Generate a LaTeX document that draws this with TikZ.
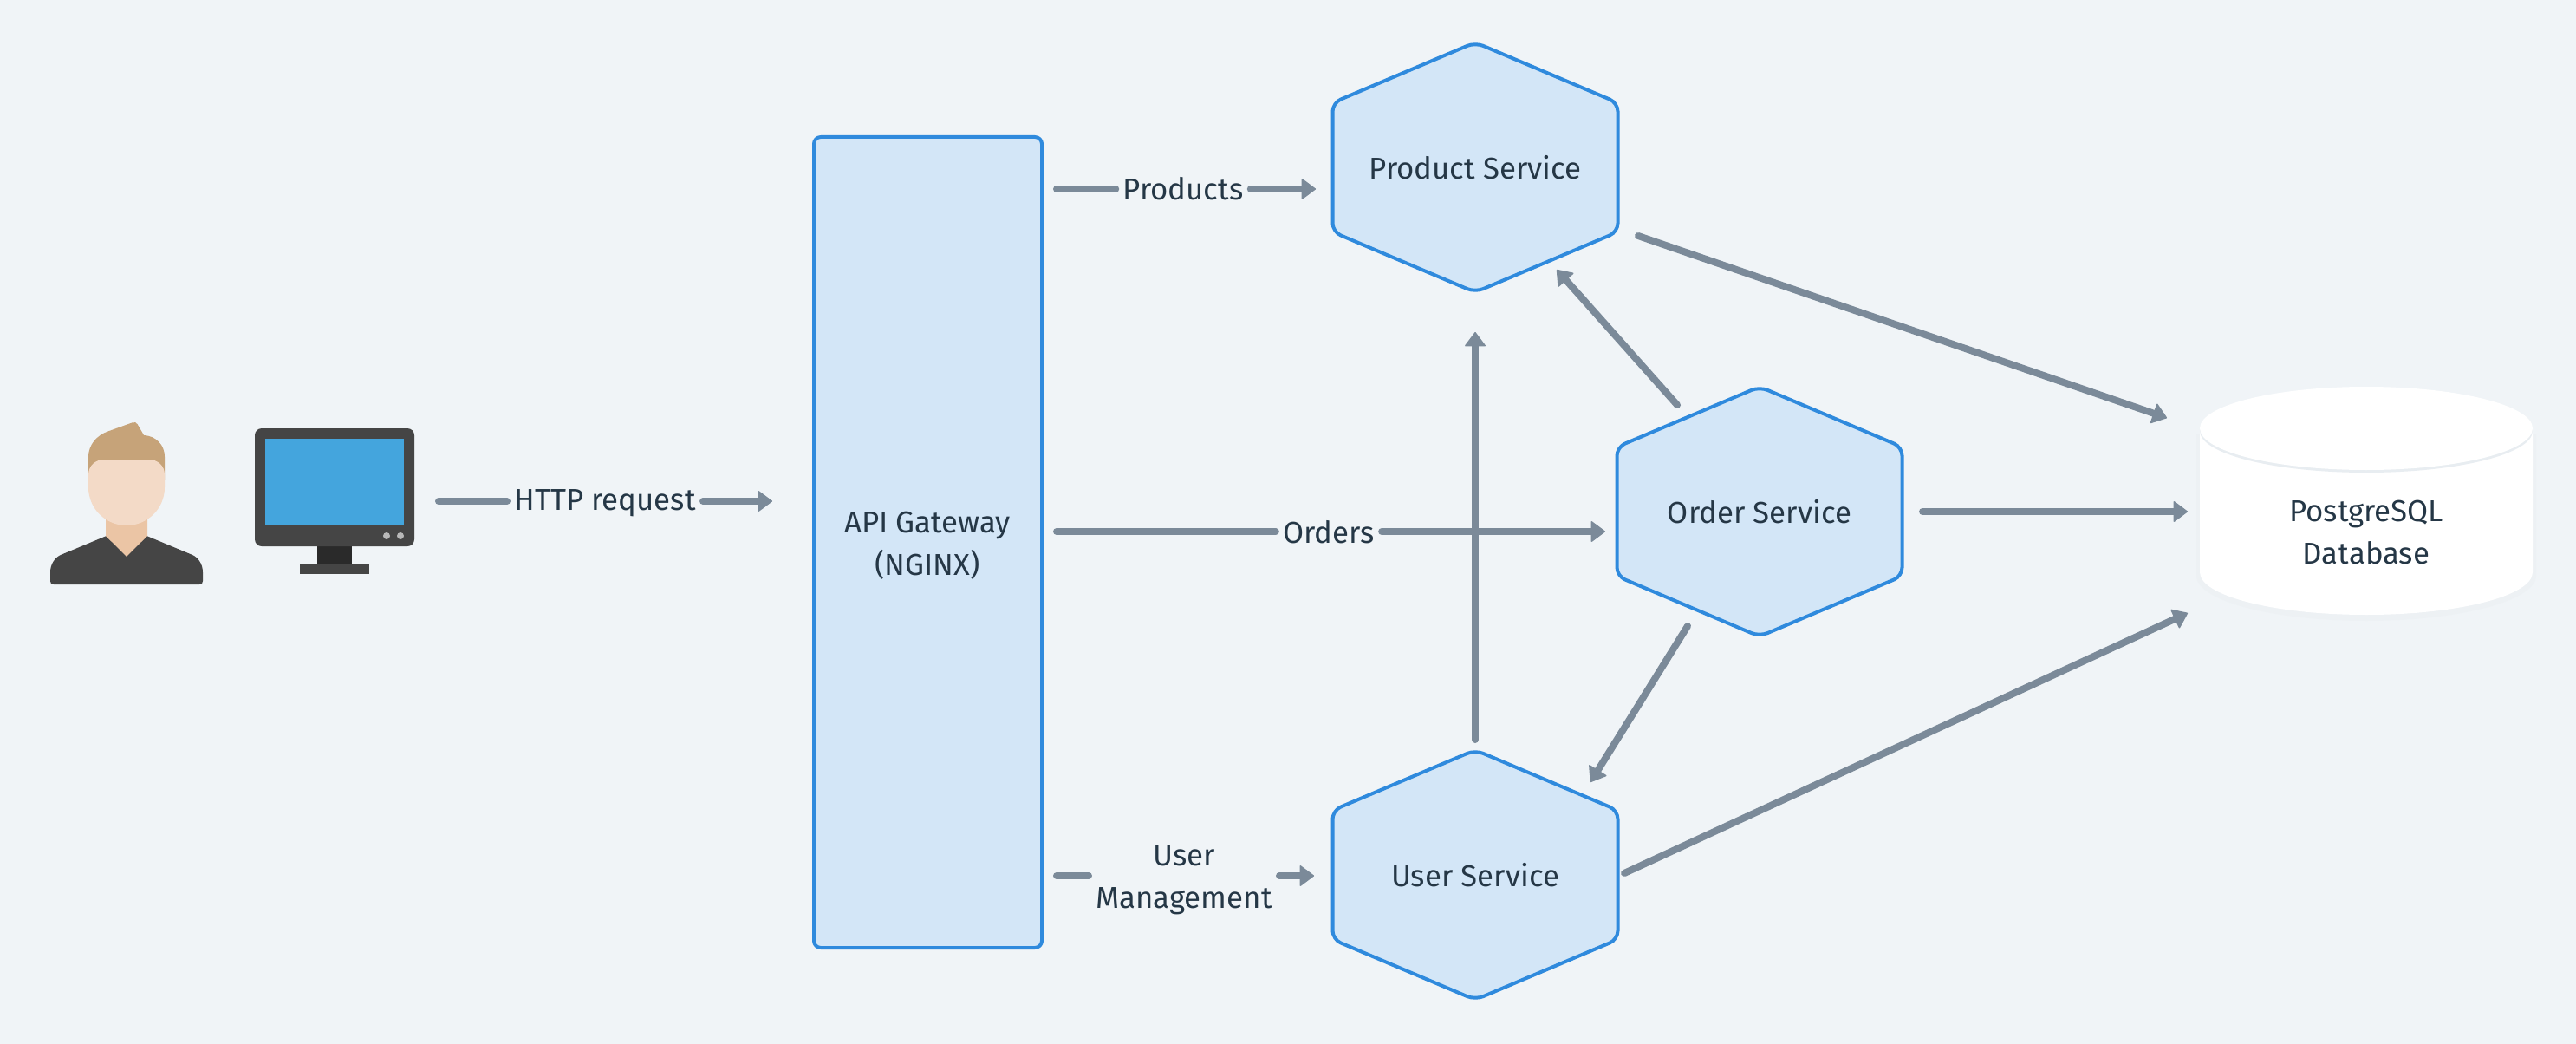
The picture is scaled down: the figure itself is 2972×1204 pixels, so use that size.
\documentclass[tikz,border=0pt]{standalone}
\usepackage{fontspec}
\setmainfont{Fira Sans}
\usetikzlibrary{arrows.meta,calc}
\definecolor{bgc}{HTML}{F0F4F7}
\definecolor{boxfill}{HTML}{D3E6F7}
\definecolor{boxline}{HTML}{2F8ADD}
\definecolor{conn}{HTML}{7B8A99}
\definecolor{ink}{HTML}{253746}
\definecolor{dark}{HTML}{454545}
\definecolor{darker}{HTML}{2A2A2A}
\definecolor{screenblue}{HTML}{44A5DD}
\definecolor{btn}{HTML}{B8B8B8}
\definecolor{hair}{HTML}{C6A379}
\definecolor{neck}{HTML}{EBC5A5}
\definecolor{face}{HTML}{F3DAC7}
\definecolor{rim}{HTML}{E8EDF1}
\tikzset{
  shapeline/.style={fill=boxfill,draw=boxline,line width=2pt,line join=round},
  lbl/.style={text=ink,font=\fontsize{17.4}{24.5}\selectfont,align=center,inner xsep=4pt,inner ysep=0pt},
  wire/.style={draw=conn,line width=4pt,line cap=round},
  arrow/.style={wire,-{Triangle[width=12.5pt,length=8.5pt,line width=0.8pt,round]}},
}
\newcommand{\hexnode}[4]{%
  \draw[shapeline,rounded corners=5pt]
    ({#2-164.5},{#3-74.5}) -- ({#2},{#3-144}) -- ({#2+164.5},{#3-74.5}) --
    ({#2+164.5},{#3+74.5}) -- ({#2},{#3+144}) -- ({#2-164.5},{#3+74.5}) -- cycle;
  \node[lbl] (#1) at (#2,#3) {#4};}
\begin{document}
\begin{tikzpicture}[x=0.5pt,y=-0.5pt]
\path[use as bounding box,fill=bgc] (0,0) rectangle (2972,1204);
% person (3x icon coordinates)
\begin{scope}[shift={(30,460)},x=0.16667pt,y=-0.16667pt]
  \fill[neck] (276,395) -- (420,395) -- (420,480) -- (348,550) -- (276,480) -- cycle;
  \fill[dark] (96,642) .. controls (88,642) and (84,638) .. (84,630) -- (84,600)
     .. controls (84,572) and (100,549) .. (120,540) -- (276,475) -- (348,546) -- (420,475) -- (576,540)
     .. controls (596,549) and (612,572) .. (612,600) -- (612,630)
     .. controls (612,638) and (608,642) .. (600,642) -- cycle;
  \fill[hair] (216,280) -- (216,200) .. controls (216,160) and (245,125) .. (285,112) -- (368,82)
     .. controls (376,79) and (383,82) .. (386,88) -- (408,126)
     .. controls (450,128) and (480,160) .. (480,200) -- (480,280) -- cycle;
  \fill[face] (216,306) -- (216,262) .. controls (216,232) and (240,210) .. (270,210) -- (426,210)
     .. controls (456,210) and (480,232) .. (480,262) -- (480,306)
     arc[start angle=0,end angle=180,x radius=132,y radius=132] -- cycle;
  % monitor
  \fill[darker] (1008,505) rectangle (1128,575);
  \fill[dark] (948,570) rectangle (1188,606);
  \fill[dark,rounded corners=4pt] (792,102) rectangle (1344,510);
  \fill[screenblue] (828,138) rectangle (1308,438);
  \fill[btn] (1248,474) circle[radius=12];
  \fill[btn] (1296,474) circle[radius=12];
\end{scope}
% database
\fill[rim,opacity=.35] (2534,500) -- (2534,664) arc[start angle=180,end angle=0,x radius=196,y radius=52] -- (2926,500) -- cycle;
\fill[white] (2538,494) -- (2538,660) arc[start angle=180,end angle=0,x radius=192,y radius=49] -- (2922,494) -- cycle;
\fill[rim] (2730,497) ellipse[x radius=192,y radius=48];
\fill[white] (2730,494) ellipse[x radius=192,y radius=48];
\node[lbl] (db) at (2730,614) {PostgreSQL\\Database};
% gateway
\draw[shapeline,rounded corners=4pt] (939,158) rectangle (1202,1093);
\node[lbl] (gw) at (1070,629) {API Gateway\\(NGINX)};
% services
\hexnode{product}{1702}{193}{Product Service}
\hexnode{order}{2030}{590}{Order Service}
\hexnode{user}{1702}{1009}{User Service}
% labels
\node[lbl] (http) at (698,580) {HTTP request};
\node[lbl] (lp) at (1365,218) {Products};
\node[lbl] (lo) at (1533,614) {Orders};
\node[lbl] (lu) at (1366,1015) {User\\Management};
% free ends
\coordinate (client) at (506,578);
\coordinate (gwin) at (891,578);
\coordinate (gwp) at (1219,218);
\coordinate (gwo) at (1219,613);
\coordinate (gwu) at (1219,1010);
\coordinate (pin) at (1518,218);
\coordinate (oin) at (1852,613);
\coordinate (uin) at (1516,1010);
% connectors
\draw[wire] (client) -- (http.west |- client);
\draw[arrow] (http.east |- gwin) -- (gwin);
\draw[wire] (gwp) -- (lp.west |- gwp);
\draw[arrow] (lp.east |- pin) -- (pin);
\draw[wire] (gwu) -- (lu.west |- gwu);
\draw[arrow] (lu.east |- uin) -- (uin);
\draw[arrow] ($(user)+(0,-156)$) -- ($(product)+(0,190)$);
\draw[wire] (gwo) -- (lo.west |- gwo);
\draw[arrow] (lo.east |- oin) -- (oin);
\draw[arrow] ($(order)+(-95,-123)$) -- ($(product)+(94,118)$);
\draw[arrow] ($(order)+(-83,132)$) -- ($(user)+(133,-107)$);
\draw[arrow] ($(product)+(188,79)$) -- ($(db)+(-230,-132)$);
\draw[arrow] ($(order)+(188,0)$) -- ($(db)+(-206,-24)$);
\draw[arrow] ($(user)+(172,-2)$) -- ($(db)+(-206,93)$);
\end{tikzpicture}
\end{document}
